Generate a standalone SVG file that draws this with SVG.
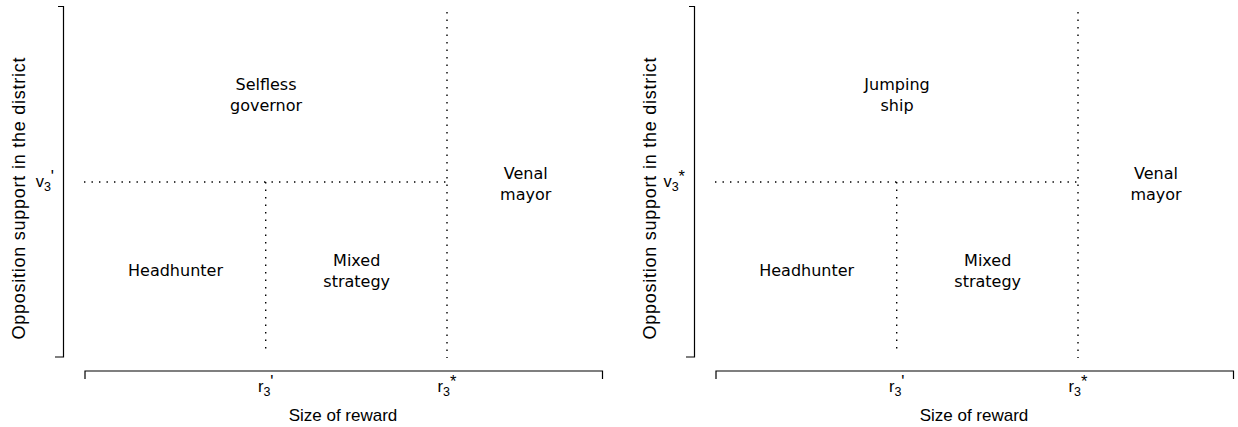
<svg xmlns="http://www.w3.org/2000/svg" width="1238" height="427" viewBox="0 0 1238 427">
  <style>
    .axis { stroke: #000; stroke-width: 1.2; fill: none; }
    .dot { stroke: #000; stroke-width: 1.4; stroke-dasharray: 1.4 6.1; fill: none; }
    .region { font-family: "DejaVu Sans", "Liberation Sans", sans-serif; font-size: 16px; fill: #000; text-anchor: middle; }
    .lab { font-family: "Liberation Sans", Arial, sans-serif; font-size: 17px; fill: #000; }
    .ylab { font-family: "Liberation Sans", Arial, sans-serif; font-size: 18px; fill: #000; text-anchor: middle; }
    .tick { font-family: "Liberation Sans", Arial, sans-serif; font-size: 16.5px; fill: #000; }
    .sub { font-size: 12.5px; }
  </style>
  <rect width="1238" height="427" fill="#fff"/>

  <!-- left panel -->
  <g id="panel-left">
    <g id="axes-left">
      <path class="axis" d="M58,6.5 H63.5 V357 H55"/>
      <path class="axis" d="M85,379 V371 H602.5 V379"/>
      <text class="ylab" transform="translate(24.5,198.5) rotate(-90)" x="0" y="0" textLength="282" lengthAdjust="spacing">Opposition support in the district</text>
      <text class="lab" x="343" y="421" text-anchor="middle">Size of reward</text>
      <text class="tick" x="54" y="186.5" text-anchor="end">v<tspan class="sub" dy="4">3</tspan><tspan dy="-9">'</tspan></text>
      <text class="tick" x="265.7" y="391.5" text-anchor="middle">r<tspan class="sub" dy="4">3</tspan><tspan dy="-9">'</tspan></text>
      <text class="tick" x="447" y="391.5" text-anchor="middle">r<tspan class="sub" dy="4">3</tspan><tspan dy="-9">*</tspan></text>
    </g>
    <g id="connectors-left">
      <line class="dot" x1="84" y1="182" x2="447" y2="182"/>
      <line class="dot" x1="265.7" y1="182" x2="265.7" y2="351"/>
      <line class="dot" x1="447" y1="12" x2="447" y2="358"/>
    </g>
    <g id="selfless-governor"><text class="region" x="266" y="90">Selfless</text><text class="region" x="266" y="111">governor</text></g>
    <g id="venal-mayor-left"><text class="region" x="525.7" y="179">Venal</text><text class="region" x="525.7" y="200">mayor</text></g>
    <g id="headhunter-left"><text class="region" x="175.5" y="276">Headhunter</text></g>
    <g id="mixed-strategy-left"><text class="region" x="356.7" y="266">Mixed</text><text class="region" x="356.7" y="287">strategy</text></g>
  </g>

  <!-- right panel -->
  <g id="panel-right" transform="translate(631,0)">
    <g id="axes-right">
      <path class="axis" d="M58,6.5 H63.5 V357 H55"/>
      <path class="axis" d="M85,379 V371 H602.5 V379"/>
      <text class="ylab" transform="translate(24.5,198.5) rotate(-90)" x="0" y="0" textLength="282" lengthAdjust="spacing">Opposition support in the district</text>
      <text class="lab" x="343" y="421" text-anchor="middle">Size of reward</text>
      <text class="tick" x="54" y="186.5" text-anchor="end">v<tspan class="sub" dy="4">3</tspan><tspan dy="-9">*</tspan></text>
      <text class="tick" x="265.7" y="391.5" text-anchor="middle">r<tspan class="sub" dy="4">3</tspan><tspan dy="-9">'</tspan></text>
      <text class="tick" x="447" y="391.5" text-anchor="middle">r<tspan class="sub" dy="4">3</tspan><tspan dy="-9">*</tspan></text>
    </g>
    <g id="connectors-right">
      <line class="dot" x1="84" y1="182" x2="447" y2="182"/>
      <line class="dot" x1="265.7" y1="182" x2="265.7" y2="351"/>
      <line class="dot" x1="447" y1="12" x2="447" y2="358"/>
    </g>
    <g id="jumping-ship"><text class="region" x="266" y="90">Jumping</text><text class="region" x="266" y="111">ship</text></g>
    <g id="venal-mayor-right"><text class="region" x="525" y="179">Venal</text><text class="region" x="525" y="200">mayor</text></g>
    <g id="headhunter-right"><text class="region" x="175.7" y="276">Headhunter</text></g>
    <g id="mixed-strategy-right"><text class="region" x="356.7" y="266">Mixed</text><text class="region" x="356.7" y="287">strategy</text></g>
  </g>
</svg>
